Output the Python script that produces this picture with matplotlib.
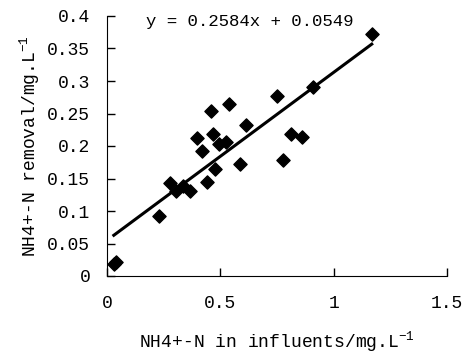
import matplotlib
matplotlib.use('Agg')
import matplotlib.pyplot as plt
import numpy as np

plt.rcParams['font.family'] = ['Liberation Mono', 'DejaVu Sans Mono']
plt.rcParams['mathtext.default'] = 'regular'

# 进水氨氮 vs 氨氮去除量
x_in = [0.03, 0.04, 0.230, 0.277, 0.306, 0.336, 0.368, 0.398, 0.420, 0.439, 0.461, 0.469,
        0.476, 0.495, 0.525, 0.539, 0.586, 0.613, 0.749, 0.775, 0.810, 0.859, 0.908, 1.168]
y_rem = [0.018, 0.022, 0.092, 0.143, 0.131, 0.138, 0.131, 0.212, 0.193, 0.145, 0.254, 0.219,
         0.164, 0.203, 0.206, 0.264, 0.172, 0.232, 0.277, 0.179, 0.219, 0.214, 0.291, 0.373]
slope = 0.2584
intercept = 0.0549

fig = plt.figure(figsize=(4.64, 3.6), dpi=100)
ax = fig.add_axes([107/464, 1 - 276/360, 340/464, 260/360])

ax.scatter(x_in, y_rem, marker='D', s=45, color='black', zorder=3)
xl = np.array([min(x_in), max(x_in)])
ax.plot(xl, slope * xl + intercept, color='black', lw=2.2)
ax.text(0.63, 0.392, 'y = %.4fx + %.4f' % (slope, intercept), ha='center', va='center', fontsize=12.5)

ax.set_xlim(0, 1.5)
ax.set_ylim(0, 0.4)
ax.set_xticks([0, 0.5, 1, 1.5])
ax.set_xticklabels(['0', '0.5', '1', '1.5'])
ax.set_yticks(np.arange(0, 0.41, 0.05))
ax.set_yticklabels(['0', '0.05', '0.1', '0.15', '0.2', '0.25', '0.3', '0.35', '0.4'])
ax.tick_params(direction='in', length=6, width=1, labelsize=13)
ax.tick_params(axis='x', pad=14)
ax.tick_params(axis='y', pad=12)
ax.spines['top'].set_visible(False)
ax.spines['right'].set_visible(False)
ax.set_xlabel('NH4+-N in influents/mg.L$^{-1}$', fontsize=13, labelpad=12)
ax.set_ylabel('NH4+-N removal/mg.L$^{-1}$', fontsize=13, labelpad=4)

fig.savefig('out.png', dpi=100)
plt.close()
